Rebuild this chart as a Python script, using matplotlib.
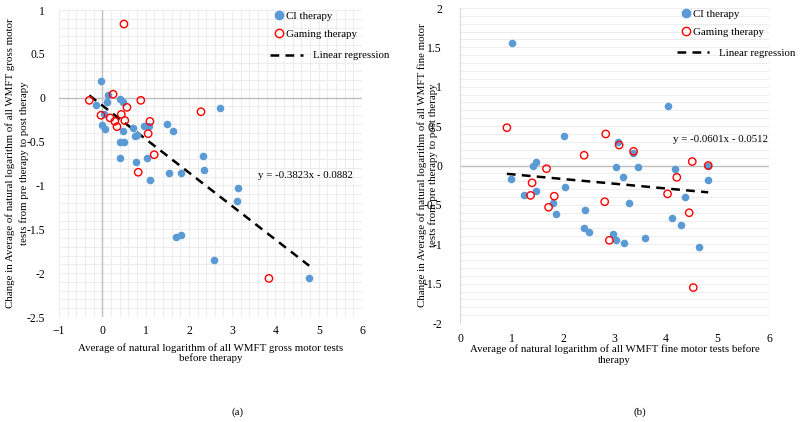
import matplotlib
matplotlib.use("Agg")
import matplotlib.pyplot as plt
import numpy as np
from matplotlib.lines import Line2D

plt.rcParams['font.family'] = ['Liberation Serif', 'DejaVu Serif']
plt.rcParams['font.size'] = 7.8

# DATA
ci_gross_x = [-0.03, 0.13, 0.10, -0.15, 0.40, 0.47, 0.03, 0.0, 0.06, 0.47, 0.70, 0.96, 1.08, 0.81,
              0.76, 0.40, 0.50, 0.42, 0.77, 1.03, 1.10, 1.50, 1.64, 1.54, 1.81, 2.32, 2.35, 2.71,
              3.13, 3.11, 1.71, 1.81, 2.58, 4.78]
ci_gross_y = [0.185, 0.03, -0.05, -0.08, -0.01, -0.05, -0.19, -0.31, -0.36, -0.38, -0.34, -0.32, -0.32, -0.42,
              -0.44, -0.51, -0.51, -0.69, -0.73, -0.69, -0.94, -0.30, -0.38, -0.86, -0.86, -0.67, -0.82, -0.12,
              -1.03, -1.18, -1.59, -1.57, -1.85, -2.06]
game_gross_x = [0.50, -0.30, 0.25, 0.89, 0.57, -0.03, 0.18, 0.44, 0.29, 0.34, 0.52, 1.10, 1.06, 1.20,
                0.83, 2.28, 3.85]
game_gross_y = [0.84, -0.03, 0.04, -0.03, -0.11, -0.20, -0.23, -0.19, -0.27, -0.33, -0.26, -0.27, -0.41, -0.65,
                -0.85, -0.16, -2.06]

ci_fine_x = [1.01, 4.04, 2.02, 3.07, 3.35, 1.48, 1.41, 3.02, 3.46, 4.17, 4.82, 1.00, 3.17, 4.82, 2.04,
             1.24, 1.48, 4.37, 1.80, 3.29, 2.42, 1.87, 4.12, 4.30, 2.40, 2.51, 2.98, 3.02, 3.18, 3.59, 4.64]
ci_fine_y = [1.55, 0.76, 0.37, 0.30, 0.16, 0.05, 0.0, -0.02, -0.02, -0.05, 0.0, -0.17, -0.15, -0.18, -0.27,
             -0.38, -0.32, -0.40, -0.47, -0.47, -0.56, -0.61, -0.67, -0.76, -0.79, -0.85, -0.87, -0.95, -0.99,
             -0.92, -1.04]
game_fine_x = [0.91, 2.83, 3.09, 3.37, 2.41, 4.51, 4.82, 1.68, 4.21, 1.40, 1.37, 1.83, 4.03, 2.81,
               1.72, 4.45, 2.90, 4.53]
game_fine_y = [0.48, 0.40, 0.26, 0.18, 0.13, 0.05, 0.0, -0.04, -0.15, -0.22, -0.38, -0.39, -0.36, -0.46,
               -0.53, -0.60, -0.95, -1.55]

gross_fit = (-0.3823, -0.0882)
fine_fit = (-0.0601, -0.0512)

BLUE = '#5B9BD5'
RED = '#FF0000'
GRID = '#EDEDED'
ZERO = '#BFBFBF'
DASH = (0, (3.5, 2.5))


def draw_panel(ax, ci_x, ci_y, g_x, g_y, fit, eq_pos, both_grids, leg_anchor, line_anchor):
    # regression line across the range of all x values
    all_x = np.array(ci_x + g_x)
    xs = np.array([all_x.min(), all_x.max()])
    ax.plot(xs, fit[0] * xs + fit[1], color='black', ls=DASH, lw=1.8, zorder=3)
    ax.scatter(ci_x, ci_y, s=30, color=BLUE, zorder=4, linewidths=0)
    ax.scatter(g_x, g_y, s=28, facecolor='none', edgecolor=RED, linewidths=1.0, zorder=5)
    ax.axhline(0, color=ZERO, lw=1, zorder=2)
    for s in ax.spines.values():
        s.set_visible(False)
    ax.tick_params(which='both', length=0, labelsize=8.4)
    ax.set_axisbelow(True)
    ax.grid(True, which='both', axis='both' if both_grids else 'y', color=GRID, lw=0.8)
    ax.text(eq_pos[0], eq_pos[1], 'y = %.4fx - %.4f' % (fit[0], -fit[1]), fontsize=7.8)

    # legend: markers with short handles, the line entry with a long one
    marks = [
        Line2D([], [], marker='o', ls='none', color=BLUE, markersize=6, label='CI therapy'),
        Line2D([], [], marker='o', ls='none', markerfacecolor='none', markeredgecolor=RED,
               markersize=6, label='Gaming therapy'),
    ]
    leg1 = ax.legend(handles=marks, loc='upper left', bbox_to_anchor=leg_anchor, frameon=False,
                     handlelength=0.6, handletextpad=0.35, labelspacing=0.75, borderaxespad=0,
                     borderpad=0, fontsize=7.8)
    ax.add_artist(leg1)
    line = [Line2D([], [], color='black', ls=DASH, lw=1.8, label='Linear regression')]
    ax.legend(handles=line, loc='upper left', bbox_to_anchor=line_anchor, frameon=False,
              handlelength=3.0, handletextpad=0.9, borderaxespad=0, borderpad=0, fontsize=7.8)


fig = plt.figure(figsize=(8, 4.22), dpi=100)

# (a) gross motor
ax1 = fig.add_axes([59 / 800, 1 - 317 / 422, 303 / 800, 307 / 422])
draw_panel(ax1, ci_gross_x, ci_gross_y, game_gross_x, game_gross_y, gross_fit, (3.6, -0.91), True,
           (0.716, 0.995), (0.698, 0.867))
ax1.axvline(0, color=ZERO, lw=1, zorder=2)
ax1.set_xlim(-1, 6)
ax1.set_ylim(-2.5, 1)
ax1.set_xticks(np.arange(-1, 7, 1))
ax1.set_xticks(np.arange(-1, 6.01, 0.2), minor=True)
ax1.set_yticks(np.arange(-2.5, 1.01, 0.5))
ax1.set_yticks(np.arange(-2.5, 1.01, 0.1), minor=True)
ax1.set_yticklabels(['-2.5', '-2', '-1.5', '-1', '-0.5', '0', '0.5', '1'])
ax1.tick_params(axis='x', pad=6)
ax1.tick_params(axis='y', pad=10)
ax1.set_xlabel('Average of natural logarithm of all WMFT gross motor tests\nbefore therapy',
               fontsize=7.8, labelpad=4, linespacing=1.1)

# (b) fine motor
ax2 = fig.add_axes([460 / 800, 1 - 323 / 422, 309 / 800, 315 / 422])
draw_panel(ax2, ci_fine_x, ci_fine_y, game_fine_x, game_fine_y, fine_fit, (4.13, 0.3), False,
           (0.722, 0.995), (0.702, 0.873))
ax2.spines['left'].set_visible(True)
ax2.spines['left'].set_color('#D9D9D9')
ax2.set_xlim(0, 6)
ax2.set_ylim(-2, 2)
ax2.set_xticks(np.arange(0, 7, 1))
ax2.set_yticks(np.arange(-2, 2.01, 0.5))
ax2.set_yticks(np.arange(-2, 2.01, 0.1), minor=True)
ax2.set_yticklabels(['-2', '-1.5', '-1', '-0.5', '0', '0.5', '1', '1.5', '2'])
ax2.tick_params(axis='x', pad=7)
ax2.tick_params(axis='y', pad=13)
ax2.set_xlabel('Average of natural logarithm of all WMFT fine motor tests before\ntherapy',
               fontsize=7.8, labelpad=0, linespacing=1.2)

fig.text(17 / 800, 1 - 163 / 422,
         'Change in Average of natural logarithm of all WMFT gross motor\ntests from pre therapy to post therapy',
         rotation=90, ha='center', va='center', fontsize=7.8, linespacing=1.5)
fig.text(428 / 800, 1 - 165 / 422,
         'Change in Average of natural logarithm of all WMFT fine motor\ntests from pre therapy to post therapy',
         rotation=90, ha='center', va='center', fontsize=7.8, linespacing=1.2)

fig.text(238 / 800, 1 - 412 / 422, '(a)', ha='center', va='center', fontsize=7.8)
fig.text(640 / 800, 1 - 412 / 422, '(b)', ha='center', va='center', fontsize=7.8)

fig.savefig('out.png', dpi=100)
